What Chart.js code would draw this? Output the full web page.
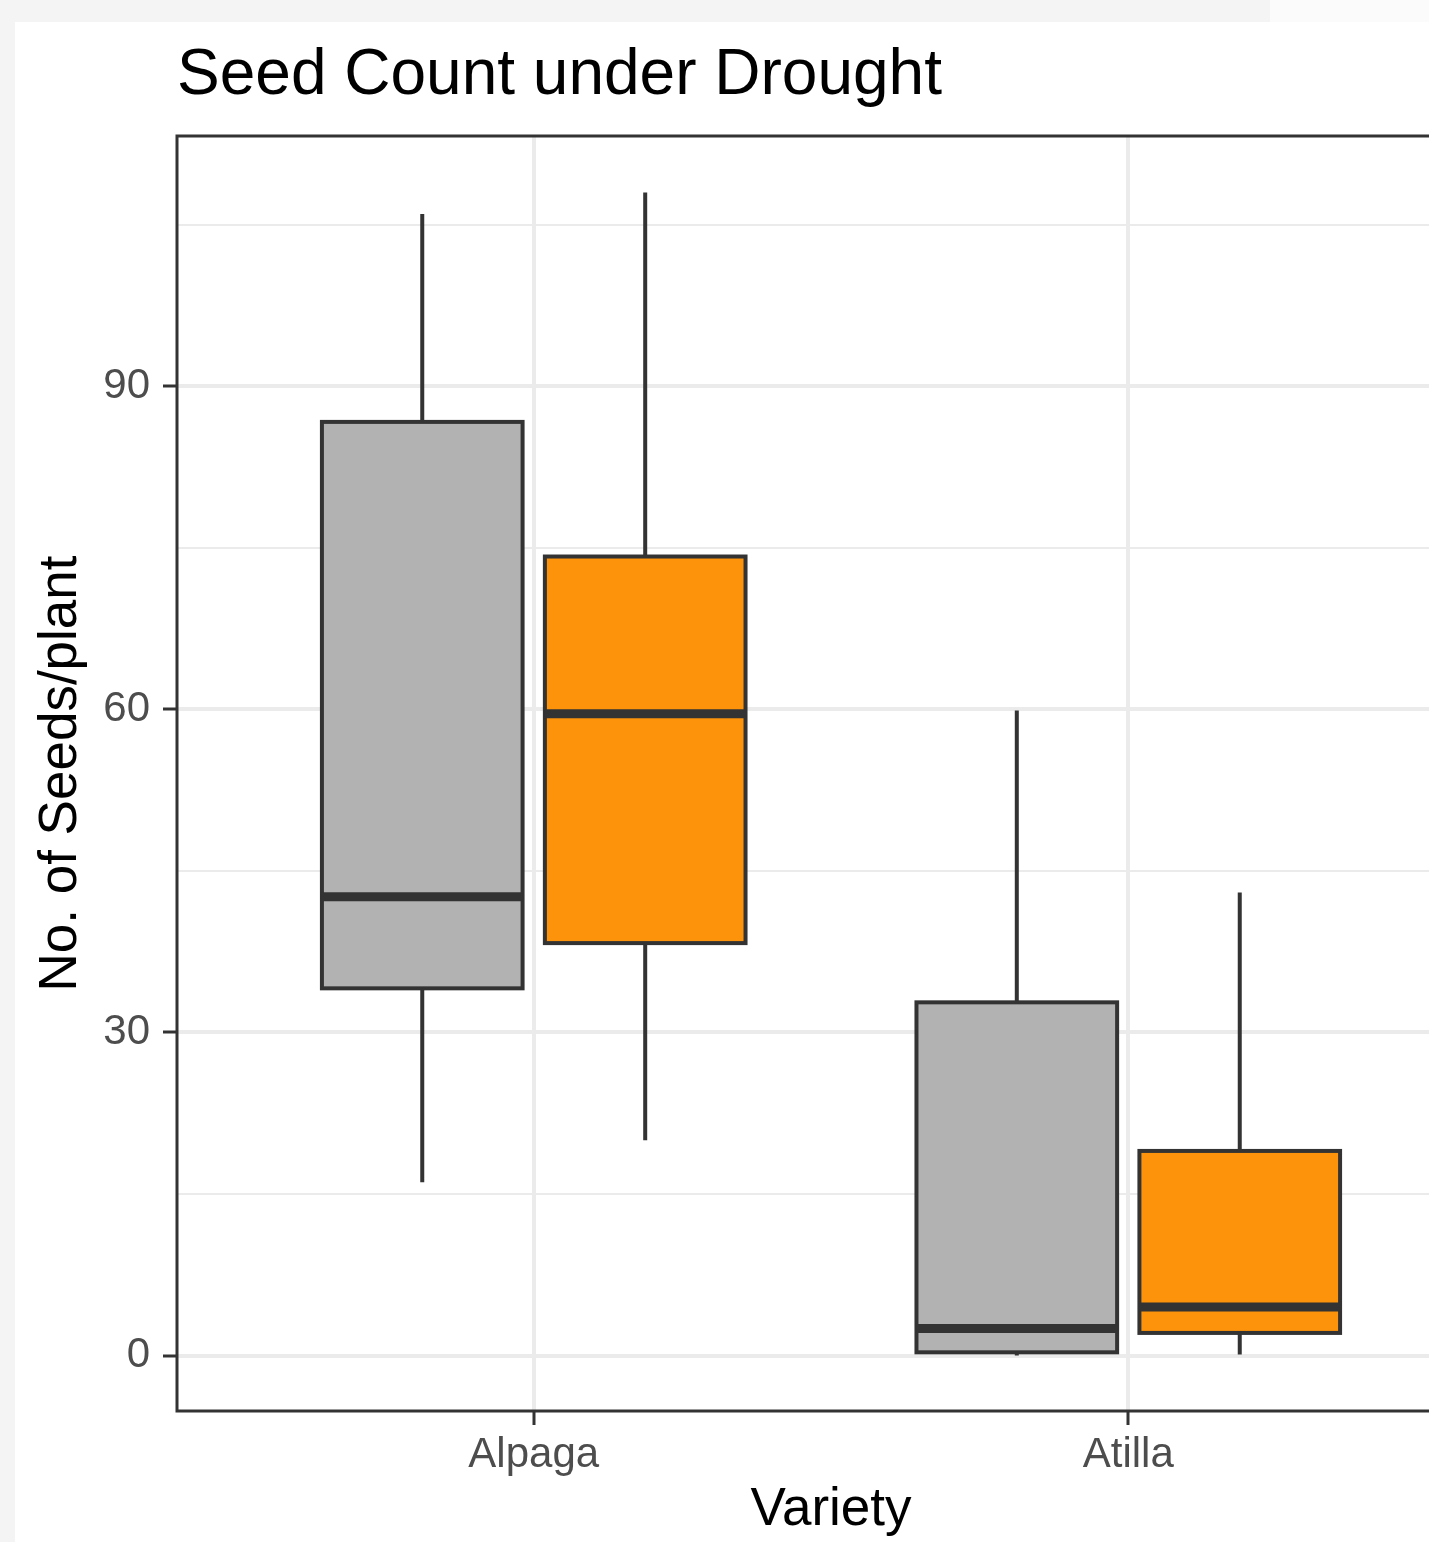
<!DOCTYPE html>
<html>
<head>
<meta charset="utf-8">
<title>Seed Count under Drought</title>
<script src="https://cdn.jsdelivr.net/npm/chart.js@4.4.1/dist/chart.umd.min.js"></script>
<style>
    html, body { margin: 0; padding: 0; background: #f4f4f4; overflow: hidden; width: 1429px; height: 1542px; }
    #strip { position: absolute; left: 1270px; top: 0; width: 159px; height: 22px; background: #fbfbfb; }
    #panel { position: absolute; left: 15px; top: 22px; width: 1500px; height: 1520px; background: #fff; }
</style>
</head>
<body>
<div id="strip"></div>
<div id="panel"><canvas id="SeedChart" width="1500" height="1520"></canvas></div>
<script>
var varieties = ['Alpaga', 'Atilla'];
var yTicks = [0, 15, 30, 45, 60, 75, 90, 105];
var yLabels = [0, 30, 60, 90];

// grey boxes
var greyMin = [16.1, 0];
var greyQ1 = [34.1, 0.3];
var greyMedian = [42.6, 2.5];
var greyQ3 = [86.7, 32.8];
var greyMax = [106.0, 59.9];

// orange boxes
var orangeMin = [20.0, 0.1];
var orangeQ1 = [38.3, 2.1];
var orangeMedian = [59.6, 4.5];
var orangeQ3 = [74.2, 19.0];
var orangeMax = [108.0, 43.0];


function boxData(mins, q1s, meds, q3s, maxs, shift) {
    return varieties.map(function (v, i) {
        return {x: i + 1 + shift, y: meds[i], min: mins[i], q1: q1s[i], median: meds[i], q3: q3s[i], max: maxs[i]};
    });
}

// draws the boxes from the datasets, through the chart scales
var boxPlugin = {
    id: 'boxes',
    afterDatasetsDraw: function (chart, args, opts) {
        var ctx = chart.ctx;
        var xs = chart.scales.x;
        var ys = chart.scales.y;
        ctx.save();
        ctx.strokeStyle = opts.lineColor;
        chart.data.datasets.forEach(function (ds) {
            ds.data.forEach(function (d) {
                var xl = xs.getPixelForValue(d.x - opts.halfWidth);
                var xr = xs.getPixelForValue(d.x + opts.halfWidth);
                var xc = xs.getPixelForValue(d.x);
                var yMin = ys.getPixelForValue(d.min);
                var yQ1 = ys.getPixelForValue(d.q1);
                var yMed = ys.getPixelForValue(d.median);
                var yQ3 = ys.getPixelForValue(d.q3);
                var yMax = ys.getPixelForValue(d.max);

                // whiskers
                ctx.lineWidth = opts.lineWidth;
                ctx.beginPath();
                ctx.moveTo(xc, yMax);
                ctx.lineTo(xc, yQ3);
                ctx.moveTo(xc, yQ1);
                ctx.lineTo(xc, yMin);
                ctx.stroke();

                // box
                ctx.fillStyle = ds.boxColor;
                ctx.fillRect(xl, yQ3, xr - xl, yQ1 - yQ3);
                ctx.strokeRect(xl, yQ3, xr - xl, yQ1 - yQ3);

                // median
                ctx.lineWidth = opts.medianWidth;
                ctx.beginPath();
                ctx.moveTo(xl, yMed);
                ctx.lineTo(xr, yMed);
                ctx.stroke();
            });
        });
        ctx.restore();
    },
    afterDraw: function (chart, args, opts) {
        // panel border
        var a = chart.chartArea;
        var ctx = chart.ctx;
        ctx.save();
        ctx.strokeStyle = opts.lineColor;
        ctx.lineWidth = opts.borderWidth;
        ctx.strokeRect(a.left, a.top, a.right - a.left, a.bottom - a.top);
        ctx.restore();
    }
};


document.addEventListener('DOMContentLoaded', function () {
    Chart.defaults.font.family = "'Liberation Sans', Arial, Helvetica, sans-serif";
    var canvas = document.getElementById('SeedChart');

    new Chart(canvas, {
        type: 'scatter',
        data: {
            datasets: [
                {label: 'grey', boxColor: '#b2b2b2', pointRadius: 0, data: boxData(greyMin, greyQ1, greyMedian, greyQ3, greyMax, -0.1875)},
                {label: 'orange', boxColor: '#fd930b', pointRadius: 0, data: boxData(orangeMin, orangeQ1, orangeMedian, orangeQ3, orangeMax, 0.1875)}
            ]
        },
        options: {
            responsive: false,
            animation: false,
            events: [],
            layout: {padding: {left: 0, top: 0, right: 30, bottom: 0}},
            scales: {
                x: {
                    type: 'linear',
                    min: 0.4,
                    max: 2.6,
                    afterBuildTicks: function (s) {
                        s.ticks = varieties.map(function (v, i) { return {value: i + 1}; });
                    },
                    afterFit: function (s) { s.height = 131; },
                    ticks: {
                        callback: function (v) { return varieties[v - 1]; },
                        font: {size: 42},
                        color: '#4d4d4d',
                        padding: 5,
                        maxRotation: 0,
                        autoSkip: false
                    },
                    grid: {color: '#ebebeb', lineWidth: 4, tickColor: '#333333', tickLength: 14, tickWidth: 3},
                    border: {display: false},
                    title: {display: true, text: 'Variety', font: {size: 53}, color: '#000', padding: 0}
                },
                y: {
                    min: -5.15,
                    max: 113.25,
                    afterBuildTicks: function (s) {
                        s.ticks = yTicks.map(function (v) { return {value: v}; });
                    },
                    afterFit: function (s) { s.width = 162; },
                    ticks: {
                        callback: function (v) { return yLabels.indexOf(v) >= 0 ? '' + v : ''; },
                        font: {size: 42},
                        color: '#4d4d4d',
                        padding: 13,
                        autoSkip: false
                    },
                    grid: {
                        color: '#ebebeb',
                        lineWidth: function (c) { return yLabels.indexOf(c.tick.value) >= 0 ? 4 : 2; },
                        tickColor: function (c) { return yLabels.indexOf(c.tick.value) >= 0 ? '#333333' : 'rgba(0,0,0,0)'; },
                        tickLength: 14,
                        tickWidth: 3
                    },
                    border: {display: false},
                    title: {display: true, text: 'No. of Seeds/plant', font: {size: 53}, color: '#000', padding: {top: 15, bottom: 0}}
                }
            },
            plugins: {
                legend: {display: false},
                tooltip: {enabled: false},
                title: {
                    display: true,
                    text: 'Seed Count under Drought',
                    align: 'start',
                    fullSize: false,
                    color: '#000',
                    font: {size: 64, weight: 'normal'},
                    padding: {top: 16, bottom: 21.2}
                },
                boxes: {lineColor: '#333333', lineWidth: 4, medianWidth: 9, borderWidth: 3, halfWidth: 0.16875}
            }
        },
        plugins: [boxPlugin]
    });
});
</script>
</body>
</html>
